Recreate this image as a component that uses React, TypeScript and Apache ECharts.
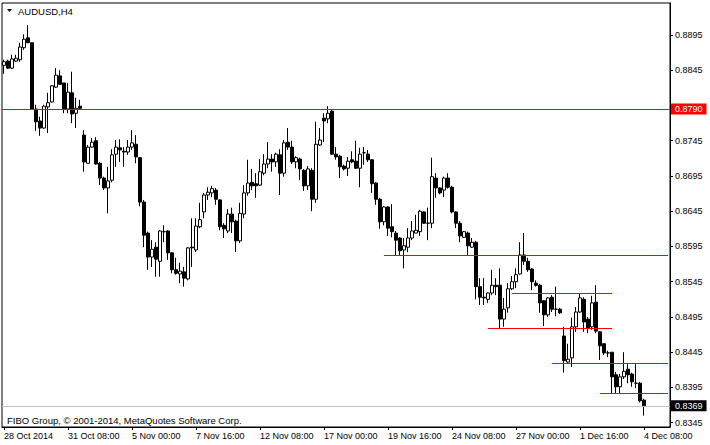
import React, { useEffect, useRef } from 'react';
import * as echarts from 'echarts';

const symbolTitle = 'AUDUSD,H4';
const copyright = 'FIBO Group, © 2001-2014, MetaQuotes Software Corp.';
const timeLabels = ['28 Oct 2014', '31 Oct 08:00', '5 Nov 00:00', '7 Nov 16:00', '12 Nov 08:00', '17 Nov 00:00', '19 Nov 16:00', '24 Nov 08:00', '27 Nov 00:00', '1 Dec 16:00', '4 Dec 08:00'];
const barsPerLabel = 16;
const totalSlots = 167; // bars + empty right shift

// [open, close, low, high]
const candles = [
  [0.8852,0.8857,0.8840,0.8860],[0.8858,0.8848,0.8847,0.8860],[0.8848,0.8861,0.8847,0.8867],[0.8858,0.8862,0.8857,0.8867],
  [0.8860,0.8878,0.8857,0.8884],[0.8877,0.8889,0.8874,0.8896],[0.8891,0.8884,0.8884,0.8909],[0.8884,0.8790,0.8789,0.8884],
  [0.8790,0.8772,0.8759,0.8796],[0.8773,0.8763,0.8752,0.8779],[0.8763,0.8794,0.8762,0.8796],[0.8793,0.8799,0.8756,0.8813],
  [0.8800,0.8823,0.8799,0.8824],[0.8821,0.8838,0.8820,0.8848],[0.8837,0.8825,0.8824,0.8845],[0.8827,0.8790,0.8784,0.8827],
  [0.8790,0.8814,0.8784,0.8827],[0.8813,0.8783,0.8770,0.8843],[0.8784,0.8791,0.8763,0.8806],[0.8794,0.8791,0.8790,0.8803],
  [0.8753,0.8715,0.8701,0.8760],[0.8713,0.8736,0.8713,0.8739],[0.8736,0.8743,0.8735,0.8749],[0.8745,0.8712,0.8711,0.8750],
  [0.8713,0.8692,0.8682,0.8715],[0.8692,0.8678,0.8675,0.8694],[0.8678,0.8688,0.8642,0.8708],[0.8689,0.8725,0.8686,0.8733],
  [0.8726,0.8736,0.8708,0.8746],[0.8735,0.8732,0.8715,0.8747],[0.8730,0.8729,0.8708,0.8736],[0.8729,0.8736,0.8725,0.8746],
  [0.8736,0.8742,0.8732,0.8760],[0.8740,0.8722,0.8713,0.8753],[0.8721,0.8658,0.8652,0.8722],[0.8658,0.8611,0.8594,0.8661],
  [0.8614,0.8580,0.8562,0.8616],[0.8580,0.8591,0.8566,0.8604],[0.8594,0.8577,0.8552,0.8601],[0.8574,0.8617,0.8552,0.8618],
  [0.8616,0.8616,0.8601,0.8625],[0.8617,0.8586,0.8576,0.8618],[0.8586,0.8562,0.8557,0.8587],[0.8562,0.8557,0.8555,0.8579],
  [0.8556,0.8560,0.8543,0.8572],[0.8559,0.8550,0.8538,0.8566],[0.8549,0.8593,0.8547,0.8594],[0.8594,0.8593,0.8566,0.8635],
  [0.8590,0.8624,0.8587,0.8635],[0.8623,0.8633,0.8621,0.8657],[0.8644,0.8668,0.8635,0.8671],[0.8668,0.8672,0.8661,0.8679],
  [0.8671,0.8677,0.8665,0.8681],[0.8675,0.8662,0.8654,0.8678],[0.8661,0.8623,0.8618,0.8662],[0.8625,0.8620,0.8607,0.8628],
  [0.8617,0.8641,0.8614,0.8648],[0.8641,0.8630,0.8614,0.8650],[0.8631,0.8603,0.8587,0.8633],[0.8603,0.8642,0.8600,0.8657],
  [0.8641,0.8671,0.8635,0.8682],[0.8671,0.8685,0.8667,0.8718],[0.8686,0.8681,0.8675,0.8705],[0.8684,0.8681,0.8664,0.8699],
  [0.8682,0.8701,0.8681,0.8719],[0.8699,0.8712,0.8696,0.8726],[0.8712,0.8719,0.8706,0.8743],[0.8719,0.8715,0.8701,0.8726],
  [0.8715,0.8726,0.8708,0.8728],[0.8725,0.8699,0.8668,0.8733],[0.8699,0.8742,0.8694,0.8746],[0.8743,0.8736,0.8732,0.8763],
  [0.8736,0.8715,0.8712,0.8745],[0.8715,0.8721,0.8706,0.8723],[0.8719,0.8705,0.8689,0.8721],[0.8703,0.8681,0.8674,0.8705],
  [0.8681,0.8705,0.8675,0.8709],[0.8703,0.8662,0.8645,0.8706],[0.8662,0.8740,0.8657,0.8772],[0.8739,0.8746,0.8738,0.8763],
  [0.8777,0.8773,0.8743,0.8784],[0.8776,0.8784,0.8770,0.8794],[0.8787,0.8726,0.8725,0.8789],[0.8726,0.8722,0.8718,0.8736],
  [0.8723,0.8708,0.8692,0.8725],[0.8709,0.8705,0.8703,0.8711],[0.8706,0.8716,0.8695,0.8722],[0.8718,0.8715,0.8713,0.8730],
  [0.8716,0.8706,0.8705,0.8745],[0.8706,0.8726,0.8679,0.8735],[0.8728,0.8728,0.8711,0.8736],[0.8726,0.8718,0.8715,0.8732],
  [0.8718,0.8684,0.8671,0.8719],[0.8685,0.8662,0.8654,0.8686],[0.8662,0.8630,0.8620,0.8664],[0.8630,0.8651,0.8625,0.8652],
  [0.8651,0.8621,0.8610,0.8652],[0.8623,0.8616,0.8608,0.8655],[0.8614,0.8604,0.8583,0.8617],[0.8607,0.8589,0.8583,0.8608],
  [0.8590,0.8596,0.8564,0.8607],[0.8594,0.8607,0.8587,0.8621],[0.8607,0.8617,0.8604,0.8631],[0.8614,0.8618,0.8614,0.8640],
  [0.8616,0.8645,0.8610,0.8647],[0.8644,0.8628,0.8627,0.8645],[0.8628,0.8628,0.8604,0.8650],[0.8628,0.8694,0.8621,0.8721],
  [0.8692,0.8678,0.8664,0.8699],[0.8678,0.8671,0.8669,0.8679],[0.8675,0.8692,0.8665,0.8694],[0.8692,0.8679,0.8677,0.8699],
  [0.8679,0.8644,0.8642,0.8681],[0.8644,0.8628,0.8621,0.8645],[0.8628,0.8610,0.8601,0.8631],[0.8608,0.8616,0.8607,0.8617],
  [0.8614,0.8596,0.8583,0.8616],[0.8594,0.8601,0.8593,0.8607],[0.8601,0.8538,0.8520,0.8603],[0.8538,0.8523,0.8512,0.8550],
  [0.8523,0.8522,0.8512,0.8550],[0.8520,0.8529,0.8515,0.8530],[0.8529,0.8540,0.8526,0.8562],[0.8540,0.8538,0.8526,0.8550],
  [0.8540,0.8492,0.8478,0.8564],[0.8492,0.8506,0.8481,0.8522],[0.8508,0.8535,0.8501,0.8543],[0.8535,0.8545,0.8533,0.8553],
  [0.8545,0.8555,0.8536,0.8564],[0.8556,0.8583,0.8555,0.8601],[0.8583,0.8574,0.8569,0.8614],[0.8574,0.8562,0.8559,0.8579],
  [0.8563,0.8545,0.8533,0.8564],[0.8543,0.8540,0.8538,0.8547],[0.8540,0.8515,0.8501,0.8542],[0.8518,0.8498,0.8482,0.8519],
  [0.8498,0.8522,0.8495,0.8523],[0.8523,0.8506,0.8502,0.8526],[0.8506,0.8506,0.8496,0.8538],[0.8506,0.8501,0.8499,0.8508],
  [0.8468,0.8433,0.8416,0.8481],[0.8431,0.8435,0.8430,0.8457],[0.8437,0.8481,0.8424,0.8494],[0.8481,0.8502,0.8474,0.8509],
  [0.8502,0.8522,0.8501,0.8529],[0.8520,0.8488,0.8474,0.8523],[0.8492,0.8479,0.8472,0.8495],[0.8481,0.8515,0.8477,0.8525],
  [0.8516,0.8475,0.8472,0.8540],[0.8474,0.8454,0.8434,0.8475],[0.8457,0.8444,0.8441,0.8458],[0.8444,0.8444,0.8438,0.8447],
  [0.8445,0.8410,0.8387,0.8445],[0.8413,0.8396,0.8387,0.8417],[0.8396,0.8410,0.8387,0.8414],[0.8410,0.8418,0.8407,0.8445],
  [0.8421,0.8413,0.8401,0.8428],[0.8414,0.8403,0.8396,0.8416],[0.8401,0.8401,0.8394,0.8428],[0.8401,0.8376,0.8374,0.8403],
  [0.8377,0.8369,0.8355,0.8379],
];

const yTicks = [0.8345, 0.8395, 0.8445, 0.8495, 0.8545, 0.8595, 0.8645, 0.8695, 0.8745, 0.8845, 0.8895];
const priceMin = 0.83389;
const priceMax = 0.89404;
const levelLine = 0.879;
const bidPrice = 0.8369;
const rayLevels = [
  { price: 0.8583, from: 95 },
  { price: 0.843, from: 137 },
  { price: 0.8387, from: 149 },
];
const segmentLevels = [
  { price: 0.8529, from: 127, to: 152 },
  { price: 0.8479, from: 121, to: 152 },
];

const FONT = 'Liberation Sans, Arial, sans-serif';

export default function App() {
  const ref = useRef<HTMLDivElement>(null);
  useEffect(() => {
    if (!ref.current) return;
    const chart = echarts.init(ref.current, undefined, { renderer: 'svg' });
    const categories = Array.from({ length: totalSlots }, (_, i) =>
      i % barsPerLabel === 0 && timeLabels[i / barsPerLabel] ? timeLabels[i / barsPerLabel] : 'bar' + i
    );
    const showIdx = (idx: number) => idx % barsPerLabel === 0 && idx / barsPerLabel < timeLabels.length;
    const red = '#ff0000';
    const lineData: any[] = [
      {
        yAxis: levelLine,
        lineStyle: { color: red, width: 1, type: 'solid' },
        label: {
          show: true, position: 'end', distance: 1, formatter: levelLine.toFixed(4),
          backgroundColor: red, color: '#ffffff', padding: [1, 4, 0, 4], fontSize: 9, lineHeight: 10, fontFamily: FONT,
        },
      },
      {
        yAxis: bidPrice,
        lineStyle: { color: '#c0c0c0', width: 1, type: 'solid' },
        label: {
          show: true, position: 'end', distance: 1, formatter: bidPrice.toFixed(4),
          backgroundColor: '#000000', color: '#ffffff', padding: [1, 4, 0, 4], fontSize: 9, lineHeight: 10, fontFamily: FONT,
        },
      },
      ...rayLevels.map((r) => [
        { coord: [r.from, r.price], lineStyle: { color: red, width: 1, type: 'solid' }, label: { show: false } },
        { coord: [totalSlots - 1, r.price] },
      ]),
      ...segmentLevels.map((s) => [
        { coord: [s.from, s.price], lineStyle: { color: red, width: 1, type: 'solid' }, label: { show: false } },
        { coord: [s.to, s.price] },
      ]),
    ];
    chart.setOption({
      animation: false,
      backgroundColor: '#ffffff',
      grid: { left: 2, right: 40, top: 3, bottom: 18, show: true, borderColor: '#000', borderWidth: 1, backgroundColor: '#fff' },
      xAxis: {
        type: 'category',
        data: categories,
        boundaryGap: true,
        axisLine: { show: true, lineStyle: { color: '#000', width: 1 } },
        axisTick: { show: true, interval: (i: number) => showIdx(i), alignWithLabel: true, length: 3, lineStyle: { color: '#000' } },
        axisLabel: {
          interval: (i: number) => showIdx(i), align: 'left', margin: 4, color: '#000', fontSize: 9, fontFamily: FONT,
        },
        splitLine: { show: false },
      },
      yAxis: {
        type: 'value',
        position: 'right',
        min: priceMin,
        max: priceMax,
        scale: true,
        axisLine: { show: true, lineStyle: { color: '#000', width: 1 } },
        axisTick: { show: true, customValues: yTicks, length: 3, lineStyle: { color: '#000' } },
        axisLabel: {
          customValues: yTicks, formatter: (v: number) => v.toFixed(4), margin: 5, color: '#000', fontSize: 9, fontFamily: FONT,
        },
        splitLine: { show: false },
      },
      series: [
        {
          type: 'candlestick',
          data: candles,
          barWidth: 3,
          clip: false,
          itemStyle: { color: '#ffffff', color0: '#000000', borderColor: '#000000', borderColor0: '#000000', borderWidth: 1 },
          markLine: { symbol: ['none', 'none'], silent: true, animation: false, precision: 4, data: lineData },
        },
      ],
      graphic: [
        { type: 'polygon', shape: { points: [[7, 9], [12, 9], [9.5, 12]] }, style: { fill: '#000' } },
        { type: 'text', x: 18, y: 11, style: { text: symbolTitle, fill: '#000', font: '9.5px ' + FONT, verticalAlign: 'middle' } },
        { type: 'text', x: 7, y: 420, style: { text: copyright, fill: '#000', font: '9.5px ' + FONT, verticalAlign: 'middle' } },
      ],
    });
    return () => chart.dispose();
  }, []);
  return (
    <div
      ref={ref}
      style={{ position: 'absolute', left: 0, top: 0, width: 710, height: 445, background: '#fff' }}
    />
  );
}
